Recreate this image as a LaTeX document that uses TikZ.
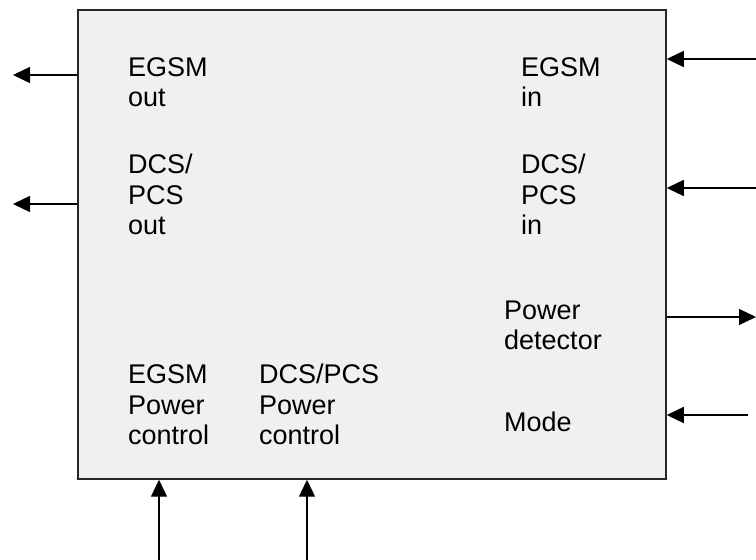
\documentclass[tikz,border=0pt]{standalone}
\usepackage{fontspec}
\setmainfont{Liberation Sans}
\usetikzlibrary{arrows.meta}
\begin{document}
\begin{tikzpicture}[x=1pt,y=1pt,
  lbl/.style={anchor=base west,inner sep=0pt,align=left,font=\fontsize{27}{30.5}\selectfont},
  arr/.style={line width=1.3pt,-{Triangle[length=17pt,width=16pt]}},
  blk/.style={draw=black!85,line width=1.5pt,fill=black!6,inner sep=0pt,minimum width=588pt,minimum height=469pt}]
\useasboundingbox (0,0) rectangle (756,560);
\node[blk] (box) at (372,315.5) {};
% labels (anchored at the baseline of their last line)
\node[lbl] (eo) at (128,453) {EGSM\\out};
\node[lbl] (do) at (128,325) {DCS/\\PCS\\out};
\node[lbl] (ei) at (521,453) {EGSM\\in};
\node[lbl] (di) at (521,325) {DCS/\\PCS\\in};
\node[lbl] (pd) at (504,210) {Power\\detector};
\node[lbl] (mode) at (504,128) {Mode};
\node[lbl] (ep) at (128,115) {EGSM\\Power\\control};
\node[lbl] (dp) at (259,115) {DCS/PCS\\Power\\control};
% free ends
\coordinate (eoE) at (13,485);
\coordinate (doE) at (13,356);
\coordinate (eiS) at (756,501);
\coordinate (diS) at (756,372);
\coordinate (pdE) at (756,243);
\coordinate (moS) at (748,145);
\coordinate (epS) at (159,0);
\coordinate (dpS) at (307,0);
% connectors
\draw[arr] (eoE -| box.west) -- (eoE);
\draw[arr] (doE -| box.west) -- (doE);
\draw[arr] (eiS) -- (eiS -| box.east);
\draw[arr] (diS) -- (diS -| box.east);
\draw[arr] (pdE -| box.east) -- (pdE);
\draw[arr] (moS) -- (moS -| box.east);
\draw[arr] (epS) -- (epS |- box.south);
\draw[arr] (dpS) -- (dpS |- box.south);
\end{tikzpicture}
\end{document}
